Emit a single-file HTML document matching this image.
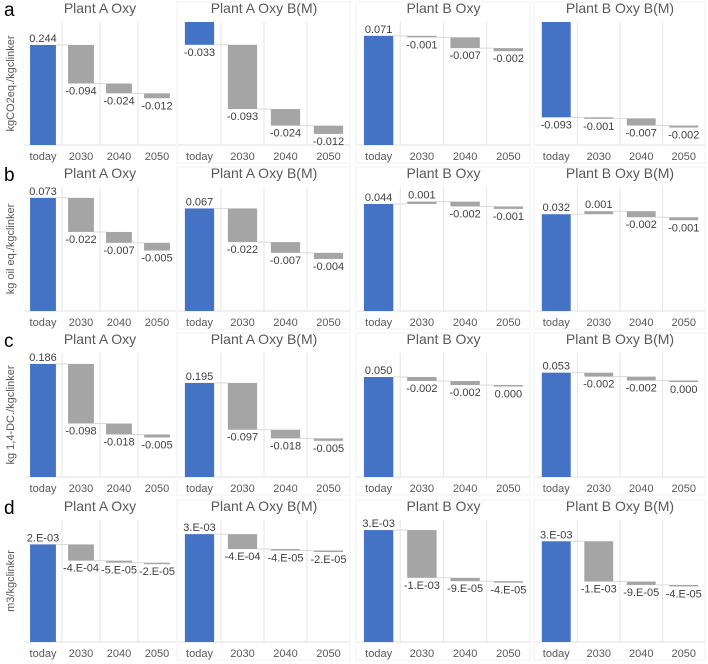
<!DOCTYPE html>
<html><head><meta charset="utf-8">
<style>
html,body{margin:0;padding:0;background:#fff;}
svg{display:block;font-family:"Liberation Sans",sans-serif;}
</style></head>
<body>
<svg id="chart" width="708" height="664" viewBox="0 0 708 664"></svg>
<script>
const categories = ["today","2030","2040","2050"];
const panelTitles = ["Plant A Oxy","Plant A Oxy B(M)","Plant B Oxy","Plant B Oxy B(M)"];
const rowLetters = ["a","b","c","d"];
const rowYTitles = ["kgCO2eq./kgclinker","kg oil eq./kgclinker","kg 1,4-DC./kgclinker","m3/kgclinker"];
// start values (today) per row x panel
const startValues = [
  [0.244,-0.033,0.071,-0.093],
  [0.073,0.067,0.044,0.032],
  [0.186,0.195,0.050,0.053],
  [0.0024,0.0029,0.0030,0.0027]
];
// deltas 2030,2040,2050
const deltaValues = [
  [[-0.094,-0.024,-0.012],[-0.093,-0.024,-0.012],[-0.001,-0.007,-0.002],[-0.001,-0.007,-0.002]],
  [[-0.022,-0.007,-0.005],[-0.022,-0.007,-0.004],[0.001,-0.002,-0.001],[0.001,-0.002,-0.001]],
  [[-0.098,-0.018,-0.005],[-0.097,-0.018,-0.005],[-0.002,-0.002,-0.0002],[-0.002,-0.002,-0.0002]],
  [[-0.0004,-0.00005,-0.00002],[-0.0004,-0.00004,-0.00002],[-0.00128,-0.00009,-0.00004],[-0.00108,-0.00009,-0.00004]]
];
const printedLabels = [
  [["0.244","-0.094","-0.024","-0.012"],["-0.033","-0.093","-0.024","-0.012"],["0.071","-0.001","-0.007","-0.002"],["-0.093","-0.001","-0.007","-0.002"]],
  [["0.073","-0.022","-0.007","-0.005"],["0.067","-0.022","-0.007","-0.004"],["0.044","0.001","-0.002","-0.001"],["0.032","0.001","-0.002","-0.001"]],
  [["0.186","-0.098","-0.018","-0.005"],["0.195","-0.097","-0.018","-0.005"],["0.050","-0.002","-0.002","0.000"],["0.053","-0.002","-0.002","0.000"]],
  [["2.E-03","-4.E-04","-5.E-05","-2.E-05"],["3.E-03","-4.E-04","-4.E-05","-2.E-05"],["3.E-03","-1.E-03","-9.E-05","-4.E-05"],["3.E-03","-1.E-03","-9.E-05","-4.E-05"]]
];
// value-axis domains [min,max] per panel
const domains = [
  [[0,0.30],[-0.178,0],[0,0.080],[-0.120,0]],
  [[0,0.080],[0,0.081],[0,0.051],[0,0.041]],
  [[0,0.204],[0,0.257],[0,0.062],[0,0.063]],
  [[0,0.0030],[0,0.00328],[0,0.00327],[0,0.00327]]
];

const svg = document.getElementById('chart');
const NS = "http://www.w3.org/2000/svg";
function mk(tag, attrs, parent){
  const e = document.createElementNS(NS, tag);
  for (const k in attrs) e.setAttribute(k, attrs[k]);
  (parent||svg).appendChild(e);
  return e;
}
const rowTop = [22,187,353,520];
const rowBottom = [145,311,477,642];
const panelX = [24,178,357,535];
const panelW = [152,172,173,170];

for (let r=0;r<4;r++){
  const letter = mk('text',{x:4,y:rowTop[r]-6,'font-size':19,fill:'#000'});
  
  
  letter.textContent = rowLetters[r];
  const yc = (rowTop[r]+rowBottom[r])/2;
  const yt = mk('text',{x:0,y:0,'font-size':11,fill:'#595959','text-anchor':'middle',transform:`translate(14,${yc}) rotate(-90)`});
  
  
  yt.textContent = rowYTitles[r];

  for (let p=0;p<4;p++){
    const g = mk('g',{});
    
    
    const x0 = panelX[p], w = panelW[p];
    const top = rowTop[r], bot = rowBottom[r];
    if (p>0){
      const b = mk('rect',{x:x0-1,y:top-20,width:w+1,height:bot-top+38,fill:'none',stroke:'#f0f0f0','stroke-width':1},g);
      
      
    }
    const dom = domains[r][p];
    const ys = v => bot - (v-dom[0])/(dom[1]-dom[0])*(bot-top);
    const band = w/4;
    const t = mk('text',{x:x0+w/2,y:top-9,'font-size':14,fill:'#595959','text-anchor':'middle'},g);
    
    
    t.textContent = panelTitles[p];
    for (let i=1;i<4;i++){
      const gl = mk('line',{x1:x0+band*i,x2:x0+band*i,y1:top,y2:bot,stroke:'#e6e6e6','stroke-width':1},g);
      
      
    }
    const ax = mk('line',{x1:x0,x2:x0+w,y1:bot,y2:bot,stroke:'#e0e0e0','stroke-width':1},g);
    
    
    let cum = startValues[r][p];
    const segs = [[0,cum]];
    deltaValues[r][p].forEach(d=>{ segs.push([cum, cum+d]); cum += d; });
    const bw = band*0.68;
    segs.forEach((s,i)=>{
      const cx = x0 + band*i + band/2;
      const yA = ys(s[0]), yB = ys(s[1]);
      const y1 = Math.min(yA,yB), h = Math.max(1.5,Math.abs(yA-yB));
      const bar = mk('rect',{x:cx-bw/2,y:y1,width:bw,height:h,fill:i===0?'#4472C4':'#A5A5A5'},g);
      
      
      if (i<3){
        const cl = mk('line',{x1:cx+bw/2,x2:cx+band-bw/2,y1:yB,y2:yB,stroke:'#d9d9d9','stroke-width':1},g);
        
        
      }
      const up = s[1] >= s[0];
      const ly = up ? y1-3 : y1+h+11;
      const lb = mk('text',{x:cx,y:ly,'font-size':11,fill:'#404040','text-anchor':'middle'},g);
      
      
      lb.textContent = printedLabels[r][p][i];
      const tk = mk('text',{x:cx,y:bot+15,'font-size':11,fill:'#595959','text-anchor':'middle'},g);
      
      
      tk.textContent = categories[i];
    });
  }
}
</script>
</body></html>
